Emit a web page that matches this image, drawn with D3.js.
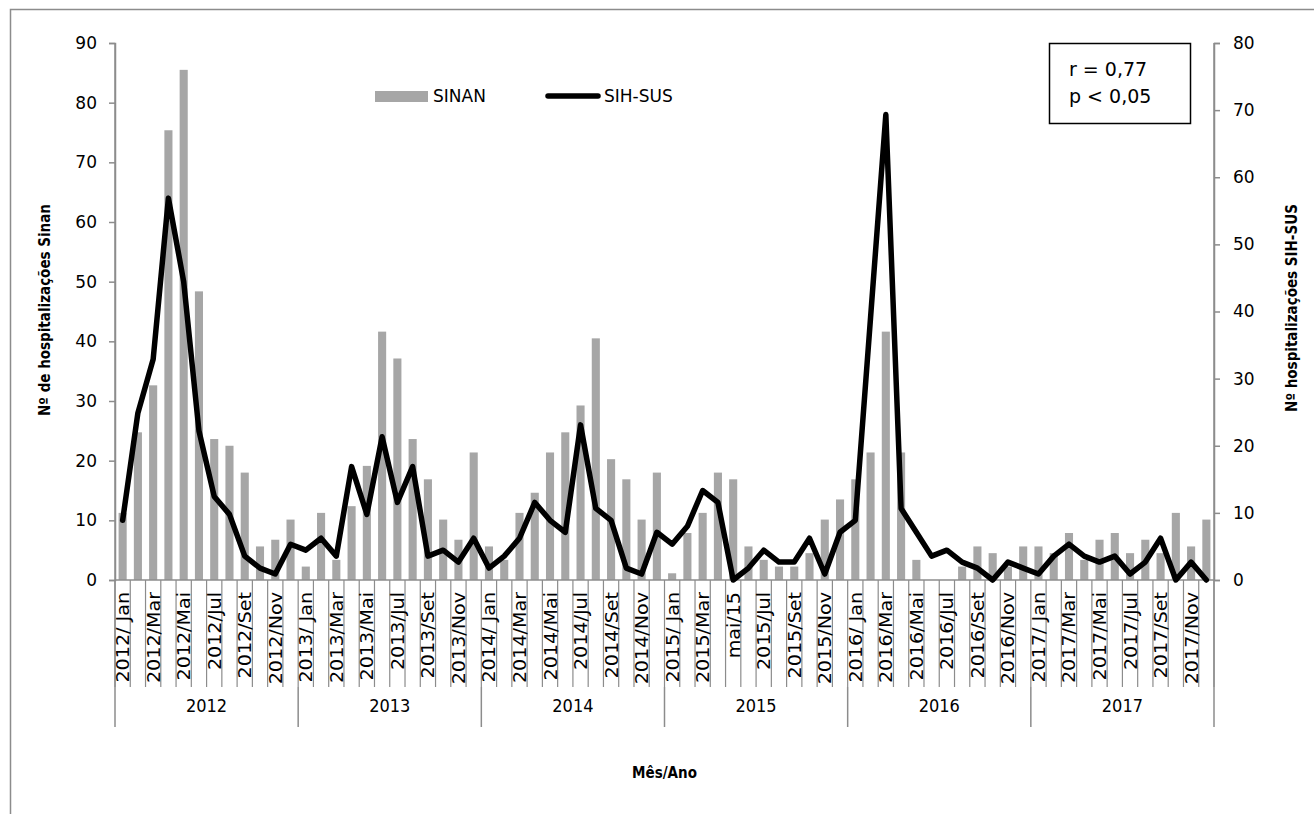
<!DOCTYPE html>
<html>
<head>
<meta charset="utf-8">
<script src="https://cdn.jsdelivr.net/npm/d3@7"></script>
<style>
body{margin:0;background:#fff;}
text{font-family:"DejaVu Sans",sans-serif;fill:#000;}
</style>
</head>
<body>
<script>
//wrap everything in a self-executing anonymous function
(function(){

//chart data
var years = ["2012", "2013", "2014", "2015", "2016", "2017"];
//labels shown on every other month (Jan, Mar, Mai, Jul, Set, Nov)
var monthLabels = [
    "2012/ Jan", "2012/Mar", "2012/Mai", "2012/Jul", "2012/Set", "2012/Nov",
    "2013/ Jan", "2013/Mar", "2013/Mai", "2013/Jul", "2013/Set", "2013/Nov",
    "2014/ Jan", "2014/Mar", "2014/Mai", "2014/Jul", "2014/Set", "2014/Nov",
    "2015/ Jan", "2015/Mar", "mai/15", "2015/Jul", "2015/Set", "2015/Nov",
    "2016/ Jan", "2016/Mar", "2016/Mai", "2016/Jul", "2016/Set", "2016/Nov",
    "2017/ Jan", "2017/Mar", "2017/Mai", "2017/Jul", "2017/Set", "2017/Nov"
];
//SINAN monthly hospitalizations (bars)
var sinan = [
    10, 22, 29, 67, 76, 43, 21, 20, 16, 5, 6, 9,
    2, 10, 3, 11, 17, 37, 33, 21, 15, 9, 6, 19,
    5, 3, 10, 13, 19, 22, 26, 36, 18, 15, 9, 16,
    1, 7, 10, 16, 15, 5, 3, 2, 2, 4, 9, 12,
    15, 19, 37, 19, 3, 0, 0, 2, 5, 4, 2, 5,
    5, 4, 7, 3, 6, 7, 4, 6, 4, 10, 5, 9
];
//SIH-SUS monthly hospitalizations (line)
var sihsus = [
    10, 28, 37, 64, 50, 25, 14, 11, 4, 2, 1, 6,
    5, 7, 4, 19, 11, 24, 13, 19, 4, 5, 3, 7,
    2, 4, 7, 13, 10, 8, 26, 12, 10, 2, 1, 8,
    6, 9, 15, 13, 0, 2, 5, 3, 3, 7, 1, 8,
    10, 44, 78, 12, 8, 4, 5, 3, 2, 0, 3, 2,
    1, 4, 6, 4, 3, 4, 1, 3, 7, 0, 3, 0
];
var leftTicks = [0, 10, 20, 30, 40, 50, 60, 70, 80, 90];
var rightTicks = [0, 10, 20, 30, 40, 50, 60, 70, 80];

window.onload = drawChart();

function drawChart(){
    var width = 1314,
        height = 814;
    var left = 115, right = 1214, top = 43, bottom = 580;
    var axisColor = "#8c8c8c";

    var svg = d3.select("body")
        .append("svg")
        .attr("width", width)
        .attr("height", height);

    //outer chart frame
    svg.append("rect")
        .attr("x", 10.5).attr("y", 9.5)
        .attr("width", 1330).attr("height", 830)
        .attr("fill", "none")
        .attr("stroke", axisColor)
        .attr("stroke-width", 1.5);

    var months = d3.range(sinan.length);

    var x = d3.scaleBand()
        .domain(months)
        .range([left, right])
        .paddingInner(0.47)
        .paddingOuter(0.235);
    var step = x.step();

    //bars follow the 0-80 scale, line the 0-90 scale (as in the picture)
    var yBar = d3.scaleLinear().domain([0, 80]).range([bottom, top]);
    var yLine = d3.scaleLinear().domain([0, 90]).range([bottom, top]);

    //bars
    svg.selectAll(".bar")
        .data(sinan)
        .enter()
        .append("rect")
        .attr("class", "bar")
        .attr("x", function(d, i){ return x(i); })
        .attr("width", x.bandwidth())
        .attr("y", function(d){ return yBar(d); })
        .attr("height", function(d){ return bottom - yBar(d); })
        .attr("fill", "#a6a6a6");

    //left axis
    var leftAxis = svg.append("g")
        .attr("transform", "translate(" + left + ",0)")
        .call(d3.axisLeft(yLine).tickValues(leftTicks).tickSizeOuter(0).tickSize(6).tickPadding(12));
    //right axis
    var rightAxis = svg.append("g")
        .attr("transform", "translate(" + right + ",0)")
        .call(d3.axisRight(yBar).tickValues(rightTicks).tickSizeOuter(0).tickSize(6).tickPadding(13));

    [leftAxis, rightAxis].forEach(function(g){
        g.select(".domain").attr("stroke", axisColor).attr("stroke-width", 1.5);
        g.selectAll(".tick line").attr("stroke", axisColor).attr("stroke-width", 1.5);
        g.selectAll(".tick text")
            .style("font-family", "DejaVu Sans")
            .style("font-size", "17px")
            .attr("fill", "#000");
    });

    //category axis line
    svg.append("line")
        .attr("x1", left).attr("x2", right)
        .attr("y1", bottom).attr("y2", bottom)
        .attr("stroke", axisColor).attr("stroke-width", 1.5);

    //month separators
    svg.selectAll(".mtick")
        .data(d3.range(sinan.length + 1))
        .enter()
        .append("line")
        .attr("x1", function(k){ return left + k * step; })
        .attr("x2", function(k){ return left + k * step; })
        .attr("y1", bottom)
        .attr("y2", 687)
        .attr("stroke", axisColor).attr("stroke-width", 1.2);

    //year separators
    svg.selectAll(".ytick")
        .data(d3.range(years.length + 1))
        .enter()
        .append("line")
        .attr("x1", function(k){ return left + k * 12 * step; })
        .attr("x2", function(k){ return left + k * 12 * step; })
        .attr("y1", function(k){ return (k == 0 || k == years.length) ? top : 687; })
        .attr("y2", 727)
        .attr("stroke", axisColor).attr("stroke-width", 1.5);

    //month labels (rotated)
    svg.selectAll(".mlabel")
        .data(monthLabels)
        .enter()
        .append("text")
        .attr("transform", function(d, k){
            var cx = x(k * 2) + x.bandwidth() / 2;
            return "translate(" + cx + ",592) rotate(-90) scale(1.18,1)";
        })
        .attr("dy", "0.36em")
        .attr("text-anchor", "end")
        .style("font-family", "DejaVu Sans Condensed")
        .style("font-size", "18px")
        .text(function(d){ return d; });

    //year labels
    svg.selectAll(".ylabel")
        .data(years)
        .enter()
        .append("text")
        .attr("x", function(d, k){ return left + (k * 12 + 6) * step; })
        .attr("y", 712)
        .attr("text-anchor", "middle")
        .style("font-family", "DejaVu Sans Condensed")
        .style("font-size", "18px")
        .text(function(d){ return d; });

    //line
    var line = d3.line()
        .x(function(d, i){ return x(i) + x.bandwidth() / 2; })
        .y(function(d){ return yLine(d); });
    svg.append("path")
        .datum(sihsus)
        .attr("d", line)
        .attr("fill", "none")
        .attr("stroke", "#000")
        .attr("stroke-width", 5.5)
        .attr("stroke-linejoin", "round")
        .attr("stroke-linecap", "round");

    //axis titles
    svg.append("text")
        .attr("transform", "translate(45,310) rotate(-90)")
        .attr("dy", "0.35em")
        .attr("text-anchor", "middle")
        .style("font-family", "DejaVu Sans Condensed")
        .style("font-weight", "bold")
        .style("font-size", "15px")
        .text("Nº de hospitalizações Sinan");
    svg.append("text")
        .attr("transform", "translate(1292,308) rotate(-90)")
        .attr("dy", "0.35em")
        .attr("text-anchor", "middle")
        .style("font-family", "DejaVu Sans Condensed")
        .style("font-weight", "bold")
        .style("font-size", "15px")
        .text("Nº hospitalizações SIH-SUS");
    svg.append("text")
        .attr("x", (left + right) / 2)
        .attr("y", 773)
        .attr("dy", "0.35em")
        .attr("text-anchor", "middle")
        .style("font-family", "DejaVu Sans Condensed")
        .style("font-weight", "bold")
        .style("font-size", "15px")
        .text("Mês/Ano");

    //legend
    svg.append("rect")
        .attr("x", 375).attr("y", 91)
        .attr("width", 53).attr("height", 11)
        .attr("fill", "#a6a6a6");
    svg.append("text")
        .attr("x", 433).attr("y", 96)
        .attr("dy", "0.35em")
        .style("font-size", "17px")
        .text("SINAN");
    svg.append("line")
        .attr("x1", 548).attr("x2", 598)
        .attr("y1", 96).attr("y2", 96)
        .attr("stroke", "#000")
        .attr("stroke-width", 5.5)
        .attr("stroke-linecap", "round");
    svg.append("text")
        .attr("x", 604).attr("y", 96)
        .attr("dy", "0.35em")
        .style("font-size", "17px")
        .text("SIH-SUS");

    //correlation box
    svg.append("rect")
        .attr("x", 1049.5).attr("y", 43.5)
        .attr("width", 141).attr("height", 80)
        .attr("fill", "#fff")
        .attr("stroke", "#000")
        .attr("stroke-width", 1.5);
    svg.append("text")
        .attr("x", 1069).attr("y", 76)
        .style("font-size", "19px")
        .text("r = 0,77");
    svg.append("text")
        .attr("x", 1069).attr("y", 103)
        .style("font-size", "19px")
        .text("p < 0,05");
};

})();
</script>
</body>
</html>
